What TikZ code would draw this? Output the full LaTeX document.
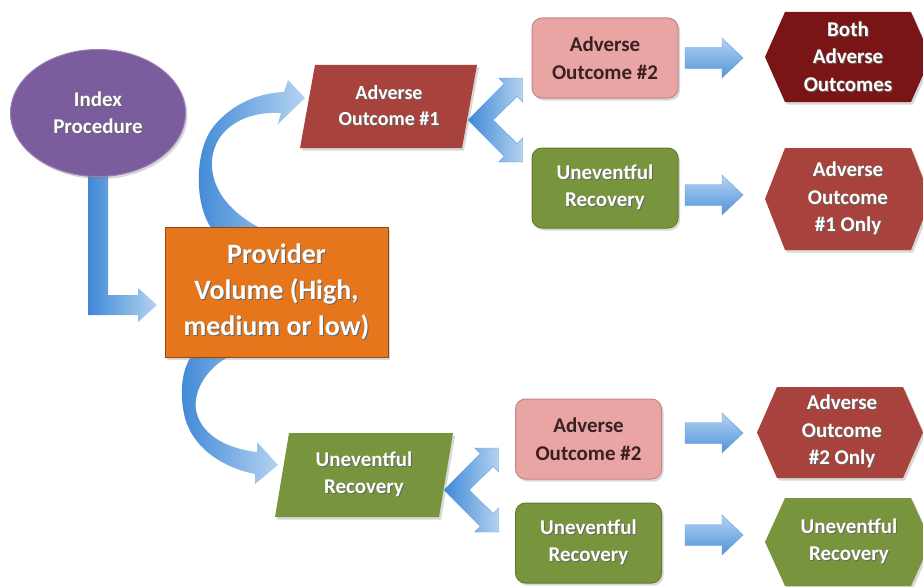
\documentclass[tikz,border=0pt]{standalone}
\usepackage{fontspec}
\setmainfont{Carlito}
\usetikzlibrary{shapes.geometric,shadows}
\definecolor{arrD}{HTML}{3F88D6}
\definecolor{arrL}{HTML}{B4D3F1}
\definecolor{purp}{HTML}{7B5C9C}
\definecolor{purpL}{HTML}{9A80B6}
\definecolor{orng}{HTML}{E5761C}
\definecolor{orngD}{HTML}{8F4A14}
\definecolor{redA}{HTML}{A8423D}
\definecolor{marn}{HTML}{7A1517}
\definecolor{pinkA}{HTML}{E8A5A4}
\definecolor{pinkD}{HTML}{C98584}
\definecolor{grn}{HTML}{78953D}
\definecolor{grnD}{HTML}{627D30}
\definecolor{txtD}{HTML}{3A2020}
\newcommand\ts[1]{\makebox[0pt][l]{\kern1pt\raisebox{-1pt}{\textcolor{black!60}{#1}}}#1}
\newcommand\rarr[3]{\shade[top color=arrL, bottom color=arrD!85!arrL, draw=arrD!80!white, line width=0.4pt]
  (#1,#3-10.5) -- (#2-21,#3-10.5) -- (#2-21,#3-20) -- (#2,#3) -- (#2-21,#3+20) -- (#2-21,#3+10.5) -- (#1,#3+10.5) -- cycle;}
\newcommand\chev[2]{\begin{scope}[shift={(#1,#2)}]
  \shade[left color=arrD, right color=arrL, draw=arrD!80!white, line width=0.4pt]
  (0,0) -- (36.3,-36.4) -- (30.7,-42) -- (54.7,-42) -- (54.7,-18) -- (49.1,-23.6) -- (25.4,0)
  -- (49.1,23.6) -- (54.7,18) -- (54.7,42) -- (30.7,42) -- (36.3,36.4) -- cycle;
  \end{scope}}
\newcommand\hexa[5]{\fill[#1, dsh] ({#2},{(#4+#5)/2}) -- ({#2+20},#4) -- ({#3-20},#4) -- ({#3},{(#4+#5)/2})
  -- ({#3-20},#5) -- ({#2+20},#5) -- cycle;}
\begin{document}
\begin{tikzpicture}[x=1pt, y=-1pt,
  dsh/.style={drop shadow={opacity=0.3, shadow xshift=2pt, shadow yshift=-2.5pt}},
  lbl/.style={align=center, text=white, inner sep=0pt, font=\bfseries\fontsize{21}{27.5}\selectfont},
  rbox/.style={lbl, rectangle, rounded corners=10pt, minimum width=146pt, minimum height=80pt, line width=1pt, dsh}]
\useasboundingbox (0,0) rectangle (923,586);
\fill[white] (0,0) rectangle (923,586);

% elbow arrow from index procedure
\shade[left color=arrD, right color=arrL]
  (88,160) -- (88,315) -- (138,315) -- (138,322) -- (157,305) -- (138,288) -- (138,295) -- (108,295) -- (108,160) -- cycle;

% curved arrows
\shade[left color=arrD, right color=arrL]
  (212,229) .. controls (194,205) and (194,150) .. (214,126) .. controls (232,104) and (258,93) .. (284,92)
  -- (288,80) -- (305,98) -- (278,124) -- (281,113)
  .. controls (245,111) and (215,128) .. (212,160) .. controls (210,190) and (232,214) .. (262,229) -- cycle;
\shade[left color=arrD, right color=arrL]
  (192,355) .. controls (180,372) and (180,398) .. (185,418) .. controls (194,450) and (225,468) .. (255,474)
  -- (255,484) -- (278,465) -- (257,442) -- (257,452)
  .. controls (222,448) and (200,432) .. (196,410) .. controls (193,390) and (208,366) .. (232,355) -- cycle;

% index
\node[lbl, ellipse, fill=purp, draw=purpL, line width=1pt, minimum width=175pt, minimum height=127pt, dsh] (idx) at (98,113) {\ts{Index}\\\ts{Procedure}};

% provider
\node[lbl, rectangle, fill=orng, draw=orngD, line width=1pt, minimum width=223pt, minimum height=130pt, dsh,
  font=\bfseries\fontsize{28}{36}\selectfont] (prov) at (276.5,292) {\ts{Provider}\\\ts{Volume (High,}\\\ts{medium or low)}};

% adverse outcome #1 parallelogram
\fill[redA, dsh] (315,65) -- (477,65) -- (462,148) -- (300,148) -- cycle;
\node[lbl, font=\bfseries\fontsize{20}{26}\selectfont] (ao1) at (389,106) {\ts{Adverse}\\\ts{Outcome \#1}};

% uneventful recovery parallelogram
\fill[grn, dsh] (289,433) -- (453,433) -- (439,517) -- (275,517) -- cycle;
\node[lbl] (urp) at (364,475) {\ts{Uneventful}\\\ts{Recovery}};

% chevrons
\chev{468}{120}
\chev{444}{490}

% second column boxes
\node[rbox, fill=pinkA, draw=pinkD, text=txtD] (ao2t) at (605,58) {Adverse\\Outcome \#2};
\node[rbox, fill=grn, draw=grnD] (urt) at (605,188) {\ts{Uneventful}\\\ts{Recovery}};
\node[rbox, fill=pinkA, draw=pinkD, text=txtD] (ao2b) at (588.5,439) {Adverse\\Outcome \#2};
\node[rbox, fill=grn, draw=grnD] (urb) at (588.5,543) {\ts{Uneventful}\\\ts{Recovery}};

% right arrows
\rarr{685}{743}{58}
\rarr{685}{743}{195}
\rarr{685}{743}{433}
\rarr{685}{743}{535}

% hexagons
\hexa{marn}{765}{931}{12}{102}
\node[lbl] (both) at (848,57) {\ts{Both}\\\ts{Adverse}\\\ts{Outcomes}};
\hexa{redA}{765}{931}{148}{250}
\node[lbl] (ao1only) at (848,199) {\ts{Adverse}\\\ts{Outcome}\\\ts{\#1 Only}};
\hexa{redA}{757}{923}{387}{478}
\node[lbl] (ao2only) at (842,432) {\ts{Adverse}\\\ts{Outcome}\\\ts{\#2 Only}};
\hexa{grn}{765}{931}{498}{586}
\node[lbl] (urhex) at (849,542) {\ts{Uneventful}\\\ts{Recovery}};
\end{tikzpicture}
\end{document}
